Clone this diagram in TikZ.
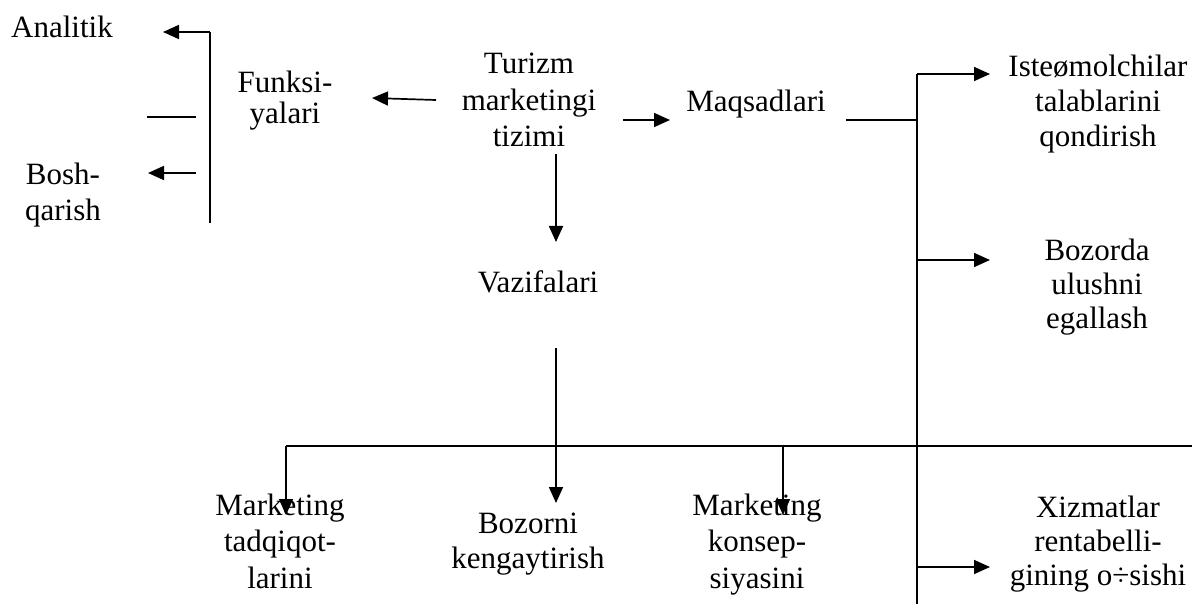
\documentclass[tikz,border=0pt]{standalone}
\usepackage{fontspec}
\setmainfont{Liberation Serif}
\usetikzlibrary{arrows.meta}
\begin{document}
\begin{tikzpicture}[x=1pt,y=-1pt,
  lbl/.style={inner sep=0pt,align=center,anchor=base},
  ln/.style={line width=1.7pt},
  arr/.style={line width=1.7pt,-{Triangle[length=16pt,width=14pt]}}]
\useasboundingbox (0,0) rectangle (1192,604);

% text blocks (placed by the baseline of their last line)
\node[lbl,font=\fontsize{31}{33}\selectfont] (an) at (62,38) {Analitik};
\node[lbl,font=\fontsize{31}{31}\selectfont] (fu) at (285,124) {Funksi-\\yalari};
\node[lbl,font=\fontsize{31}{36}\selectfont] (bo) at (63,221) {Bosh-\\qarish};
\node[lbl,font=\fontsize{31}{36.5}\selectfont] (tu) at (529,147) {Turizm\\marketingi\\tizimi};
\node[lbl,font=\fontsize{31}{33}\selectfont] (ma) at (756,112) {Maqsadlari};
\node[lbl,font=\fontsize{31}{33}\selectfont] (va) at (538,293) {Vazifalari};
\node[lbl,font=\fontsize{31}{35}\selectfont] (is) at (1098,147) {Isteømolchilar\\talablarini\\qondirish};
\node[lbl,font=\fontsize{31}{34}\selectfont] (bz) at (1097,328) {Bozorda\\ulushni\\egallash};
\node[lbl,font=\fontsize{31}{36.5}\selectfont] (mt) at (280,588) {Marketing\\tadqiqot-\\larini};
\node[lbl,font=\fontsize{31}{35}\selectfont] (bk) at (528,568) {Bozorni\\kengaytirish};
\node[lbl,font=\fontsize{31}{36.5}\selectfont] (mk) at (757,588) {Marketing\\konsep-\\siyasini};
\node[lbl,font=\fontsize{31}{34}\selectfont] (xr) at (1098,585) {Xizmatlar\\rentabelli-\\gining o÷sishi};

% connector points
\coordinate (fTop) at (210,32);
\coordinate (fBot) at (210,223);
\coordinate (anTip) at (163,32);
\coordinate (fMidA) at (196,117);
\coordinate (fMidB) at (147,117);
\coordinate (fLowA) at (196,173);
\coordinate (boTip) at (148,173);
\coordinate (tuL) at (436,100);
\coordinate (fuTip) at (372,98);
\coordinate (tuR) at (623,120);
\coordinate (maTip) at (670,120);
\coordinate (tuD) at (556,154);
\coordinate (vaTip) at (556,242);
\coordinate (maR) at (846,120);
\coordinate (vTop) at (917,74);
\coordinate (vBot) at (917,604);
\coordinate (isTip) at (990,74);
\coordinate (bzA) at (917,260);
\coordinate (bzTip) at (990,260);
\coordinate (xrA) at (917,567);
\coordinate (xrTip) at (990,567);
\coordinate (vaD) at (556,348);
\coordinate (bkTip) at (556,503);
\coordinate (hL) at (286,446);
\coordinate (hR) at (1192,446);
\coordinate (hM) at (783,446);
\coordinate (mtTip) at (286,515);
\coordinate (mkTip) at (783,515);

% bracket of the functions
\draw[ln] (fBot) -- (fTop);
\draw[arr] (fTop) -- (anTip);
\draw[ln] (fMidA) -- (fMidB);
\draw[arr] (fLowA) -- (boTip);

% from the central block
\draw[arr] (tuL) -- (fuTip);
\draw[arr] (tuR) -- (maTip);
\draw[arr] (tuD) -- (vaTip);

% goals branch
\draw[ln] (maR) -- (vTop |- maR);
\draw[ln] (vTop) -- (vBot);
\draw[arr] (vTop) -- (isTip);
\draw[arr] (bzA) -- (bzTip);
\draw[arr] (xrA) -- (xrTip);

% tasks branch
\draw[ln] (hL) -- (hR);
\draw[arr] (vaD) -- (bkTip);
\draw[arr] (hL) -- (mtTip);
\draw[arr] (hM) -- (mkTip);
\end{tikzpicture}
\end{document}
